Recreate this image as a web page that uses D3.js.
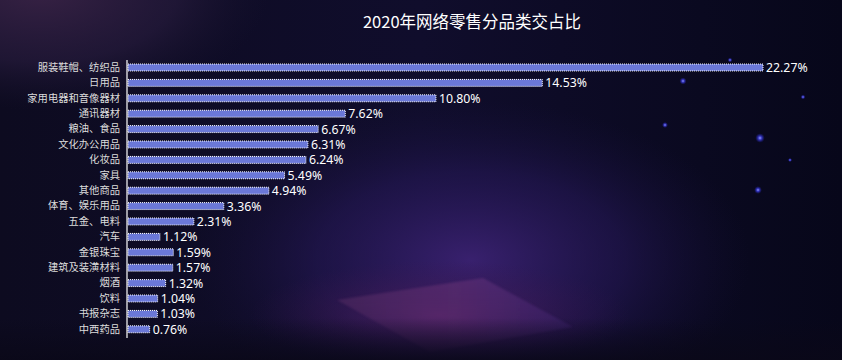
<!DOCTYPE html>
<html><head><meta charset="utf-8">
<script src="https://cdn.jsdelivr.net/npm/d3@7/dist/d3.min.js"></script>
<style>
html,body{margin:0;padding:0;background:#0b0a20;overflow:hidden}
svg{display:block}
</style></head>
<body>
<svg id="chart" width="842" height="360"></svg>
<script>
const title = "2020年网络零售分品类交占比";
const categories = ["服装鞋帽、纺织品","日用品","家用电器和音像器材","通讯器材","粮油、食品","文化办公用品","化妆品","家具","其他商品","体育、娱乐用品","五金、电料","汽车","金银珠宝","建筑及装潢材料","烟酒","饮料","书报杂志","中西药品"];
const values = [22.27,14.53,10.80,7.62,6.67,6.31,6.24,5.49,4.94,3.36,2.31,1.12,1.59,1.57,1.32,1.04,1.03,0.76];
const stars = [[760,138,1.6],[758,190,1.3],[683,81,1.2],[665,125,1],[803,97,0.8],[730,60,0.8],[790,160,0.7]];

const W=842,H=360;
const svg=d3.select("#chart");
const defs=svg.append("defs");

// background
const bg=defs.append("linearGradient").attr("id","bg").attr("x1",0).attr("y1",0).attr("x2",1).attr("y2",0);
bg.append("stop").attr("offset","0%").attr("stop-color","#0d0b20");
bg.append("stop").attr("offset","50%").attr("stop-color","#100d2c");
bg.append("stop").attr("offset","100%").attr("stop-color","#07071a");
svg.append("rect").attr("width",W).attr("height",H).attr("fill","url(#bg)");

const g1=defs.append("radialGradient").attr("id","glowTL").attr("cx",0.5).attr("cy",0.5).attr("r",0.5);
g1.append("stop").attr("offset","0%").attr("stop-color","#3c2448").attr("stop-opacity",0.9);
g1.append("stop").attr("offset","60%").attr("stop-color","#2a1d40").attr("stop-opacity",0.6);
g1.append("stop").attr("offset","100%").attr("stop-color","#1a1430").attr("stop-opacity",0);
svg.append("ellipse").attr("cx",40).attr("cy",-10).attr("rx",230).attr("ry",120).attr("fill","url(#glowTL)");

const g2=defs.append("radialGradient").attr("id","glowC").attr("cx",0.5).attr("cy",0.5).attr("r",0.5);
g2.append("stop").attr("offset","0%").attr("stop-color","#40247a").attr("stop-opacity",0.85);
g2.append("stop").attr("offset","55%").attr("stop-color","#2a1a60").attr("stop-opacity",0.5);
g2.append("stop").attr("offset","100%").attr("stop-color","#1a1240").attr("stop-opacity",0);
svg.append("ellipse").attr("cx",470).attr("cy",260).attr("rx",280).attr("ry",160).attr("fill","url(#glowC)");

const g3=defs.append("radialGradient").attr("id","glowB").attr("cx",0.5).attr("cy",0.5).attr("r",0.5);
g3.append("stop").attr("offset","0%").attr("stop-color","#5a2468").attr("stop-opacity",0.7);
g3.append("stop").attr("offset","100%").attr("stop-color","#3a1650").attr("stop-opacity",0);
svg.append("ellipse").attr("cx",440).attr("cy",315).attr("rx",190).attr("ry",55).attr("fill","url(#glowB)");

const qg=defs.append("linearGradient").attr("id","quad").attr("x1",0).attr("y1",0).attr("x2",1).attr("y2",0);
qg.append("stop").attr("offset","0%").attr("stop-color","#5e3068");
qg.append("stop").attr("offset","50%").attr("stop-color","#6a3478");
qg.append("stop").attr("offset","100%").attr("stop-color","#4c2c82");
const qv=defs.append("linearGradient").attr("id","quadMask").attr("x1",0).attr("y1",0).attr("x2",0).attr("y2",1);
qv.append("stop").attr("offset","0%").attr("stop-color","#fff").attr("stop-opacity",1);
qv.append("stop").attr("offset","100%").attr("stop-color","#fff").attr("stop-opacity",0.2);
defs.append("mask").attr("id","qm").append("rect").attr("x",300).attr("y",270).attr("width",300).attr("height",90).attr("fill","url(#quadMask)");
defs.append("filter").attr("id","blur").append("feGaussianBlur").attr("stdDeviation",1.2);
svg.append("path").attr("d","M337,300 L483,278 L573,327 L430,352 Z").attr("fill","url(#quad)").attr("opacity",0.6)
  .attr("filter","url(#blur)").attr("mask","url(#qm)");

// bottom dark fade
const bf=defs.append("linearGradient").attr("id","bfade").attr("x1",0).attr("y1",0).attr("x2",0).attr("y2",1);
bf.append("stop").attr("offset","0%").attr("stop-color","#0a0818").attr("stop-opacity",0);
bf.append("stop").attr("offset","100%").attr("stop-color","#0a0818").attr("stop-opacity",0.85);
svg.append("rect").attr("x",0).attr("y",318).attr("width",W).attr("height",42).attr("fill","url(#bfade)");

// stars
const sg=defs.append("radialGradient").attr("id","star");
sg.append("stop").attr("offset","0%").attr("stop-color","#9aa0ff");
sg.append("stop").attr("offset","40%").attr("stop-color","#3d3ee0").attr("stop-opacity",0.8);
sg.append("stop").attr("offset","100%").attr("stop-color","#2020a0").attr("stop-opacity",0);
svg.selectAll("circle.star").data(stars).join("circle").attr("class","star")
  .attr("cx",d=>d[0]).attr("cy",d=>d[1]).attr("r",d=>d[2]*3).attr("fill","url(#star)");

// title
svg.append("text").attr("x",472).attr("y",28).attr("text-anchor","middle")
  .attr("fill","#ffffff").attr("font-size","16.5px")
  .attr("font-family","'Noto Sans CJK SC','Noto Sans',sans-serif").text(title);

// chart
const x0=128;
const x=d3.scaleLinear().domain([0,d3.max(values)]).range([x0,763]);
const y=d3.scaleBand().domain(categories).range([59.8,337]).paddingInner(0.55).paddingOuter(0.275);

const g=svg.append("g");
g.selectAll("rect.bar").data(values).join("rect").attr("class","bar")
  .attr("x",x(0)).attr("y",(d,i)=>y(categories[i]))
  .attr("width",d=>x(d)-x(0)).attr("height",y.bandwidth())
  .attr("fill","#6b78d8").attr("stroke","#ffffff").attr("stroke-width",1)
  .attr("stroke-dasharray","1,1");

g.selectAll("text.val").data(values).join("text").attr("class","val")
  .attr("x",d=>x(d)+3).attr("y",(d,i)=>y(categories[i])+y.bandwidth()/2)
  .attr("dy","0.36em").attr("fill","#ffffff").attr("font-size","12.3px")
  .attr("font-family","'Noto Sans','Noto Sans CJK SC',sans-serif")
  .text(d=>d.toFixed(2)+"%");

const axis=d3.axisLeft(y).tickSize(0).tickPadding(7);
const ax=svg.append("g").attr("transform",`translate(${x0-1},0)`).call(axis);
ax.select(".domain").attr("stroke","#ffffff").attr("stroke-width",1.2).attr("d","M0,60V338");
ax.selectAll("text").attr("fill","#dcdcdc").attr("font-size","10.3px")
  .attr("font-family","'Noto Sans CJK SC',sans-serif");
</script>
</body></html>
